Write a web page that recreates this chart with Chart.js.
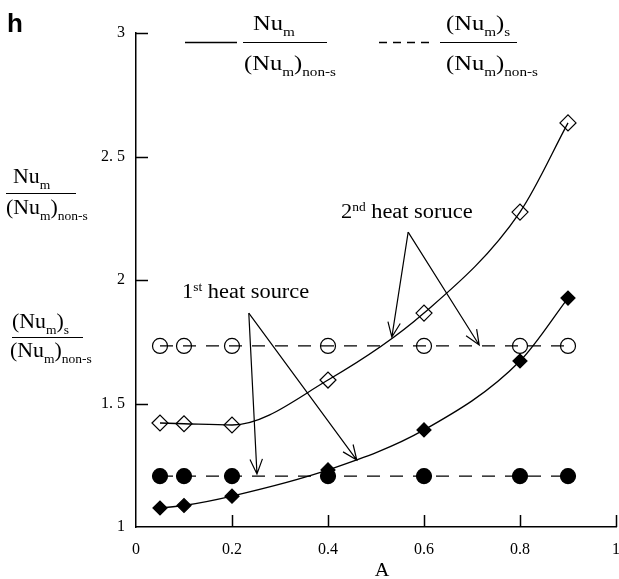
<!DOCTYPE html>
<html lang="en">
<head>
<meta charset="UTF-8" />
<title>Nu ratio vs A</title>
<script src="https://cdn.jsdelivr.net/npm/chart.js@4.4.0/dist/chart.umd.min.js"></script>
<style>
  html, body { margin: 0; padding: 0; background: #fff; }
</style>
</head>
<body>
<canvas id="myChart" width="619" height="579"></canvas>
<script>
// aspect ratio A (x axis)
const A = [0.05, 0.1, 0.2, 0.4, 0.6, 0.8, 0.9];
// Nu_m / (Nu_m)non-s  (solid curves)
const nu1st = [1.077, 1.087, 1.125, 1.231, 1.393, 1.672, 1.927];
const nu2nd = [1.421, 1.418, 1.413, 1.595, 1.866, 2.275, 2.636];
// (Nu_m)s / (Nu_m)non-s  (dashed lines)
const nuS1st = [1.206, 1.206, 1.206, 1.206, 1.206, 1.206, 1.206];
const nuS2nd = [1.733, 1.733, 1.733, 1.733, 1.733, 1.733, 1.733];
// tick labels
const xTicks = [0, 0.2, 0.4, 0.6, 0.8, 1];
const yTicks = [1, 1.5, 2, 2.5, 3];

const SERIF = '"Liberation Serif", "Times New Roman", serif';

function pts(ys) {
  return A.map((a, i) => ({ x: a, y: ys[i] }));
}

// draws text pieces, normal / subscript / superscript, starting at x
function textRun(ctx, x, y, parts, size, sx) {
  let cx = x;
  parts.forEach(([t, k]) => {
    const fs = k === 'n' ? size : Math.round(size * 0.62);
    const dy = k === 'sub' ? size * 0.3 : (k === 'sup' ? -size * 0.33 : 0);
    ctx.font = fs + 'px ' + SERIF;
    ctx.save();
    ctx.translate(cx, y + dy);
    ctx.scale(sx, 1);
    ctx.fillText(t, 0, 0);
    ctx.restore();
    cx += ctx.measureText(t).width * sx;
  });
  return cx - x;
}

const NUM = [['Nu', 'n'], ['m', 'sub']];
const NUMS = [['(Nu', 'n'], ['m', 'sub'], [')', 'n'], ['s', 'sub']];
const DEN = [['(Nu', 'n'], ['m', 'sub'], [')', 'n'], ['non-s', 'sub']];

// f: [xTop, yTop, xBot, yBot, lineX1, lineX2, lineY]
function frac(ctx, top, bottom, f, size, sx) {
  textRun(ctx, f[0], f[1], top, size, sx);
  textRun(ctx, f[2], f[3], bottom, size, sx);
  ctx.beginPath();
  ctx.moveTo(f[4], f[6]);
  ctx.lineTo(f[5], f[6]);
  ctx.stroke();
}

function arrow(ctx, x0, y0, x1, y1) {
  ctx.beginPath();
  ctx.moveTo(x0, y0);
  ctx.lineTo(x1, y1);
  const ang = Math.atan2(y1 - y0, x1 - x0);
  const len = 16, spread = 0.4;
  ctx.moveTo(x1 - len * Math.cos(ang - spread), y1 - len * Math.sin(ang - spread));
  ctx.lineTo(x1, y1);
  ctx.lineTo(x1 - len * Math.cos(ang + spread), y1 - len * Math.sin(ang + spread));
  ctx.stroke();
}

// arrows: [from A, from value, to A, to value]
const arrows1st = [[0.235, 1.866, 0.252, 1.215], [0.235, 1.866, 0.460, 1.271]];
const arrows2nd = [[0.567, 2.194, 0.533, 1.769], [0.567, 2.194, 0.715, 1.737]];

const decorations = {
  id: 'decorations',
  afterDraw(chart) {
    const ctx = chart.ctx;
    const xs = chart.scales.x, ys = chart.scales.y;
    const area = chart.chartArea;
    ctx.save();
    ctx.strokeStyle = '#000';
    ctx.fillStyle = '#000';
    ctx.textAlign = 'left';
    ctx.textBaseline = 'alphabetic';

    // inward tick marks
    ctx.lineWidth = 1.5;
    ctx.beginPath();
    xTicks.slice(1).forEach(v => {
      const p = Math.round(xs.getPixelForValue(v)) + 0.5;
      ctx.moveTo(p, area.bottom);
      ctx.lineTo(p, area.bottom - 12);
    });
    yTicks.slice(1).forEach(v => {
      const p = Math.round(ys.getPixelForValue(v)) + 0.5;
      ctx.moveTo(area.left, p);
      ctx.lineTo(area.left + 12, p);
    });
    ctx.stroke();

    // arrows
    ctx.lineWidth = 1.2;
    arrows1st.concat(arrows2nd).forEach(a => {
      arrow(ctx, xs.getPixelForValue(a[0]), ys.getPixelForValue(a[1]),
        xs.getPixelForValue(a[2]), ys.getPixelForValue(a[3]));
    });

    // annotation labels
    textRun(ctx, xs.getPixelForValue(0.096), ys.getPixelForValue(1.927),
      [['1', 'n'], ['st', 'sup'], [' heat source', 'n']], 20, 1.12);
    textRun(ctx, xs.getPixelForValue(0.427), ys.getPixelForValue(2.251),
      [['2', 'n'], ['nd', 'sup'], [' heat soruce', 'n']], 20, 1.12);

    // legend
    ctx.lineWidth = 1.3;
    ctx.beginPath();
    ctx.moveTo(185, 42.5);
    ctx.lineTo(237, 42.5);
    ctx.stroke();
    ctx.setLineDash([8, 6]);
    ctx.beginPath();
    ctx.moveTo(379, 42.5);
    ctx.lineTo(429, 42.5);
    ctx.stroke();
    ctx.setLineDash([]);
    ctx.lineWidth = 1.2;
    frac(ctx, NUM, DEN, [253, 30, 244, 70, 243, 327, 42.5], 21, 1.17);
    frac(ctx, NUMS, DEN, [446, 30, 446, 70, 440, 517, 42.5], 21, 1.17);

    // y axis labels on the left
    frac(ctx, NUM, DEN, [13, 183, 6, 214, 6, 76, 193.5], 21, 1.04);
    frac(ctx, NUMS, DEN, [12, 328, 10, 357, 12, 83, 337.5], 21, 1.04);

    // x axis title
    ctx.font = '18px ' + SERIF;
    ctx.textAlign = 'center';
    ctx.save();
    ctx.translate(382, 576);
    ctx.scale(1.12, 1);
    ctx.fillText('A', 0, 0);
    ctx.restore();

    // panel letter
    ctx.textAlign = 'left';
    ctx.font = 'bold 26px "Liberation Sans", Arial, sans-serif';
    ctx.fillText('h', 7, 32);
    ctx.restore();
  }
};

const lineBase = {
  borderColor: '#000',
  borderWidth: 1.3,
  pointBorderColor: '#000',
  pointBorderWidth: 1.2,
  showLine: true,
  clip: false
};

new Chart(document.getElementById('myChart'), {
  type: 'line',
  data: {
    datasets: [
      Object.assign({}, lineBase, {
        label: '(Nu_m)s/(Nu_m)non-s 2nd',
        data: pts(nuS2nd),
        borderDash: [13, 10],
        tension: 0,
        pointStyle: 'circle',
        pointRadius: 7.5,
        pointBackgroundColor: 'rgba(0,0,0,0)'
      }),
      Object.assign({}, lineBase, {
        label: '(Nu_m)s/(Nu_m)non-s 1st',
        data: pts(nuS1st),
        borderDash: [13, 10],
        tension: 0,
        pointStyle: 'circle',
        pointRadius: 7.5,
        pointBackgroundColor: '#000'
      }),
      Object.assign({}, lineBase, {
        label: 'Nu_m/(Nu_m)non-s 2nd',
        data: pts(nu2nd),
        cubicInterpolationMode: 'monotone',
        pointStyle: 'rectRot',
        pointRadius: 8,
        pointBackgroundColor: 'rgba(0,0,0,0)'
      }),
      Object.assign({}, lineBase, {
        label: 'Nu_m/(Nu_m)non-s 1st',
        data: pts(nu1st),
        cubicInterpolationMode: 'monotone',
        pointStyle: 'rectRot',
        pointRadius: 7,
        pointBackgroundColor: '#000'
      })
    ]
  },
  options: {
    responsive: false,
    animation: false,
    layout: { autoPadding: false, padding: { top: 33, right: 3, left: 0, bottom: 0 } },
    plugins: {
      legend: { display: false },
      tooltip: { enabled: false }
    },
    scales: {
      x: {
        type: 'linear',
        min: 0,
        max: 1,
        afterBuildTicks: s => { s.ticks = xTicks.map(v => ({ value: v })); },
        afterFit: s => { s.height = 52; s.paddingRight = 0; s.paddingLeft = 0; },
        grid: { display: false, drawTicks: false },
        border: { display: true, color: '#000', width: 1.5 },
        ticks: {
          color: '#000',
          padding: 13,
          maxRotation: 0,
          font: { family: SERIF, size: 16 },
          callback: v => String(v)
        }
      },
      y: {
        min: 1,
        max: 3,
        afterBuildTicks: s => { s.ticks = yTicks.map(v => ({ value: v })); },
        afterFit: s => { s.width = 136; },
        grid: { display: false, drawTicks: false },
        border: { display: true, color: '#000', width: 1.5 },
        ticks: {
          color: '#000',
          padding: 11,
          font: { family: SERIF, size: 16 },
          callback: v => String(v).replace('.', '. ')
        }
      }
    }
  },
  plugins: [decorations]
});
</script>
</body>
</html>
